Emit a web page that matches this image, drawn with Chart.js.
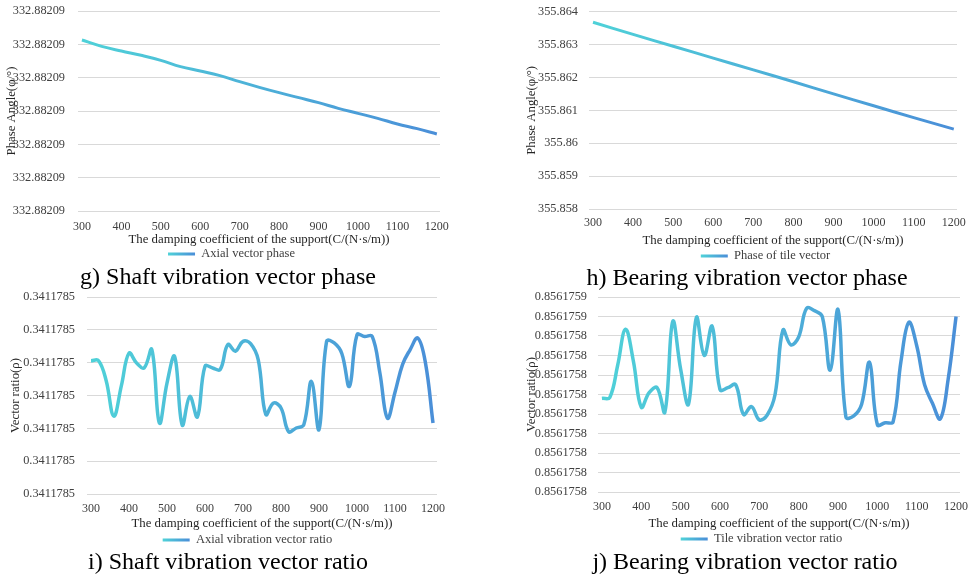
<!DOCTYPE html>
<html>
<head>
<meta charset="utf-8">
<script src="https://cdn.jsdelivr.net/npm/chart.js@4.4.1/dist/chart.umd.min.js"></script>
<style>
  body { margin: 0; background: #fff; }
  #wrap { position: relative; width: 971px; height: 576px; overflow: hidden; background: #fff; font-family: "Liberation Serif", serif; }
  canvas { position: absolute; }
  .cap { position: absolute; font-size: 24px; color: #000; white-space: nowrap; transform: translate(-50%, -50%); }
</style>
</head>
<body>
<div id="wrap">
  <canvas id="g" width="485" height="272" style="left:0;top:0"></canvas>
  <canvas id="h" width="481" height="274" style="left:490px;top:0"></canvas>
  <canvas id="i" width="485" height="273" style="left:0;top:285px"></canvas>
  <canvas id="j" width="481" height="272" style="left:490px;top:285px"></canvas>
  <div class="cap" style="left:228px;top:276px">g) Shaft vibration vector phase</div>
  <div class="cap" style="left:747px;top:277px">h) Bearing vibration vector phase</div>
  <div class="cap" style="left:228px;top:561px">i) Shaft vibration vector ratio</div>
  <div class="cap" style="left:745px;top:561px">j) Bearing vibration vector ratio</div>
</div>
<script>
// x axis
const xTicks = [300, 400, 500, 600, 700, 800, 900, 1000, 1100, 1200];
const xTitle = "The damping coefficient of the support(C/(N·s/m))";

// g) shaft phase (read in gridline units, labels all show 332.88209)
const shaftPhaseX = [300, 350, 400, 450, 500, 550, 600, 650, 700, 750, 800, 850, 900, 950, 1000, 1050, 1100, 1150, 1200];
const shaftPhase = [5.13, 4.94, 4.80, 4.67, 4.52, 4.33, 4.20, 4.06, 3.88, 3.71, 3.55, 3.40, 3.25, 3.08, 2.93, 2.78, 2.61, 2.47, 2.31];
const shaftPhaseTicks = [0, 1, 2, 3, 4, 5, 6];
const shaftPhaseLabels = ["332.88209", "332.88209", "332.88209", "332.88209", "332.88209", "332.88209", "332.88209"];

// h) bearing phase
const bearingPhaseX = [300, 400, 500, 600, 700, 800, 900, 1000, 1100, 1200];
const bearingPhase = [355.86368, 355.86331, 355.86295, 355.86259, 355.86223, 355.86187, 355.86150, 355.86114, 355.86078, 355.86043];
const bearingPhaseTicks = [355.858, 355.859, 355.860, 355.861, 355.862, 355.863, 355.864];
const bearingPhaseLabels = ["355.858", "355.859", "355.86", "355.861", "355.862", "355.863", "355.864"];

// i) / j) vector ratios
const ratioX = [300, 320, 340, 360, 380, 400, 420, 440, 460, 480, 500, 520, 540, 560, 580, 600, 620, 640, 660, 680,
  700, 720, 740, 760, 780, 800, 820, 840, 860, 880, 900, 920, 940, 960, 980, 1000, 1020, 1040, 1060, 1080,
  1100, 1120, 1140, 1160, 1180, 1200];
const shaftRatio = [4.06, 4.06, 3.45, 2.37, 3.30, 4.29, 3.99, 3.84, 4.40, 2.16, 3.38, 4.19, 2.10, 2.97, 2.35, 3.89, 3.84, 3.79, 4.55, 4.35,
  4.65, 4.58, 4.09, 2.42, 2.77, 2.62, 1.90, 2.01, 2.11, 3.43, 1.96, 4.65, 4.60, 4.28, 3.28, 4.85, 4.80, 4.80, 3.70, 2.31,
  3.10, 3.95, 4.40, 4.75, 4.00, 2.16];
const shaftRatioTicks = [0, 1, 2, 3, 4, 5, 6];
const shaftRatioLabels = ["0.3411785", "0.3411785", "0.3411785", "0.3411785", "0.3411785", "0.3411785", "0.3411785"];

const bearingRatio = [4.80, 4.85, 6.50, 8.35, 6.70, 4.35, 5.10, 5.35, 4.10, 8.75, 6.30, 4.50, 8.95, 7.00, 8.50, 5.25, 5.35, 5.50, 3.97, 4.38,
  3.70, 3.95, 5.00, 8.30, 7.55, 7.95, 9.42, 9.30, 9.00, 6.25, 9.35, 3.85, 3.90, 4.50, 6.65, 3.45, 3.55, 3.60, 6.70, 8.70,
  7.50, 5.50, 4.55, 3.75, 5.80, 9.00];
const bearingRatioTicks = [0, 1, 2, 3, 4, 5, 6, 7, 8, 9, 10];
const bearingRatioLabels = ["0.8561758", "0.8561758", "0.8561758", "0.8561758", "0.8561758", "0.8561758", "0.8561758",
  "0.8561758", "0.8561758", "0.8561759", "0.8561759"];

const font = "Liberation Serif";
const cyan = "#4FD2D8";
const blue = "#4A8ED8";

function grad(c, x0, x1) {
  const g = c.createLinearGradient(x0, 0, x1, 0);
  g.addColorStop(0, cyan);
  g.addColorStop(1, blue);
  return g;
}

// move the legend to where Excel centred it, and fade its swatch like the line
const legendTweak = {
  id: "legendTweak",
  afterLayout(chart, args, opts) {
    const lg = chart.legend;
    if (!lg) return;
    const shift = opts.center - (lg.left + lg.right) / 2;
    lg.left += shift;
    lg.right += shift;
  },
  beforeDraw(chart) {
    const lg = chart.legend;
    if (!lg || !lg.legendHitBoxes || !lg.legendHitBoxes.length) return;
    const hb = lg.legendHitBoxes[0];
    lg.legendItems[0].fillStyle = grad(chart.ctx, hb.left, hb.left + lg.options.labels.boxWidth);
  }
};

function makeChart(id, s) {
  const el = document.getElementById(id);
  const H = el.height;
  const R = el.width - s.area.r;
  const titleSize = 12.8;
  const xPad = s.tickY - s.area.b - 12 * 1.2 / 2;
  const xH = s.titleY + titleSize / 2 - s.area.b;
  const legPad = s.legendY - (s.area.b + xH) - 12.5 / 2;
  const B = H - (s.area.b + xH + 12.5 + legPad + 10);

  return new Chart(el, {
    type: "line",
    data: {
      datasets: [{
        label: s.label,
        data: s.xs.map((x, k) => ({ x: x, y: s.ys[k] })),
        borderColor: (ctx) => {
          const area = ctx.chart.chartArea;
          if (!area) return blue;
          return grad(ctx.chart.ctx, area.left, area.right);
        },
        borderWidth: s.lineWidth,
        pointRadius: 0,
        tension: 0.4,
        fill: false,
      }],
    },
    options: {
      responsive: false,
      animation: false,
      layout: { padding: { left: 0, right: R, top: s.area.t, bottom: B } },
      scales: {
        x: {
          type: "linear",
          min: s.xMin,
          max: s.xMax,
          afterBuildTicks: (sc) => { sc.ticks = xTicks.map((v) => ({ value: v })); },
          afterFit: (sc) => { sc.height = xH; sc.paddingLeft = 0; sc.paddingRight = 0; },
          grid: { display: false, drawTicks: false },
          border: { display: false },
          ticks: {
            padding: xPad, maxRotation: 0, autoSkip: false, color: "#404040",
            font: { family: font, size: 12, lineHeight: 1.2 },
            callback: (v) => String(v),
          },
          title: {
            display: true, text: xTitle, color: "#262626",
            font: { family: font, size: titleSize, lineHeight: 1 },
            padding: { top: 0, bottom: 0 },
          },
        },
        y: {
          min: s.yMin,
          max: s.yMax,
          afterBuildTicks: (sc) => { sc.ticks = s.yTicks.map((v) => ({ value: v })); },
          afterFit: (sc) => { sc.width = s.area.l; sc.paddingTop = 0; sc.paddingBottom = 0; },
          grid: { color: "#D9D9D9", lineWidth: 1, drawTicks: false },
          border: { display: false },
          ticks: {
            padding: s.yTickPad, color: "#404040",
            font: { family: font, size: 12.3, lineHeight: 1.2 },
            callback: (v, k) => s.yLabels[k],
          },
          title: {
            display: true, text: s.yTitle, color: "#262626",
            font: { family: font, size: 12.8, lineHeight: 1.2 },
            padding: { top: s.yTitleX - 7.7, bottom: 0 },
          },
        },
      },
      plugins: {
        legendTweak: { center: s.legendCenter },
        legend: {
          position: "bottom",
          labels: {
            boxWidth: 27, boxHeight: 3, padding: legPad, color: "#404040",
            font: { family: font, size: 12.5 },
            generateLabels: (chart) => [{
              text: chart.data.datasets[0].label,
              fillStyle: blue, strokeStyle: "rgba(0,0,0,0)", lineWidth: 0,
              hidden: false, datasetIndex: 0, fontColor: "#404040",
            }],
          },
        },
        tooltip: { enabled: false },
      },
    },
    plugins: [legendTweak],
  });
}

makeChart("g", {
  xs: shaftPhaseX, ys: shaftPhase, label: "Axial vector phase",
  yMin: 0, yMax: 6, yTicks: shaftPhaseTicks, yLabels: shaftPhaseLabels, yTitle: "Phase Angle(φ/°)",
  xMin: 290, xMax: 1208, lineWidth: 3,
  area: { l: 78, r: 440, t: 11, b: 211 }, yTickPad: 13,
  tickY: 227, titleY: 240, legendY: 254, legendCenter: 231.5, yTitleX: 12,
});

makeChart("h", {
  xs: bearingPhaseX, ys: bearingPhase, label: "Phase of tile vector",
  yMin: 355.858, yMax: 355.864, yTicks: bearingPhaseTicks, yLabels: bearingPhaseLabels, yTitle: "Phase Angle(φ/°)",
  xMin: 290, xMax: 1208, lineWidth: 3,
  area: { l: 99, r: 467, t: 11.7, b: 209 }, yTickPad: 11,
  tickY: 223, titleY: 241, legendY: 256, legendCenter: 275.5, yTitleX: 42,
});

makeChart("i", {
  xs: ratioX, ys: shaftRatio, label: "Axial vibration vector ratio",
  yMin: 0, yMax: 6, yTicks: shaftRatioTicks, yLabels: shaftRatioLabels, yTitle: "Vector ratio(ρ)",
  xMin: 289.5, xMax: 1210.5, lineWidth: 3.5,
  area: { l: 87, r: 437, t: 12, b: 209 }, yTickPad: 12,
  tickY: 224, titleY: 239, legendY: 255, legendCenter: 247.5, yTitleX: 16,
});

makeChart("j", {
  xs: ratioX, ys: bearingRatio, label: "Tile vibration vector ratio",
  yMin: 0, yMax: 10, yTicks: bearingRatioTicks, yLabels: bearingRatioLabels, yTitle: "Vector ratio(ρ)",
  xMin: 290, xMax: 1210, lineWidth: 3.5,
  area: { l: 108, r: 470, t: 12, b: 207 }, yTickPad: 11,
  tickY: 222, titleY: 239, legendY: 254, legendCenter: 271.5, yTitleX: 42,
});
</script>
</body>
</html>
